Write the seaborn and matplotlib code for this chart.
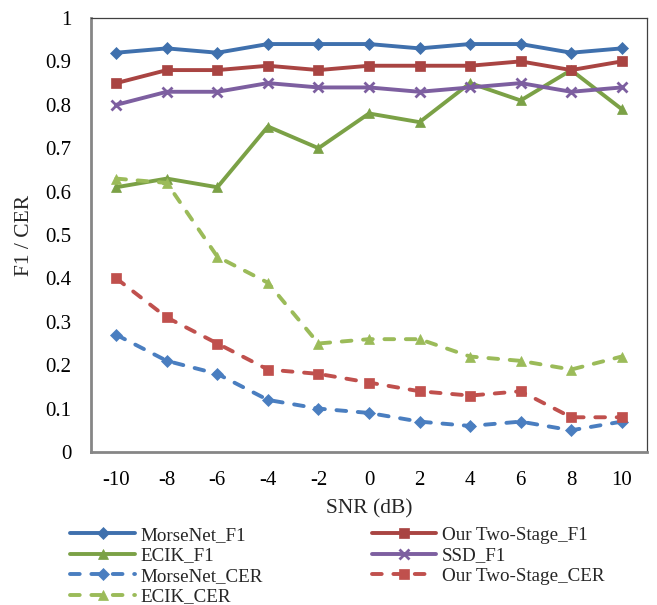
import matplotlib
matplotlib.use("Agg")
import matplotlib.pyplot as plt
import seaborn as sns
import pandas as pd

snr = [-10, -8, -6, -4, -2, 0, 2, 4, 6, 8, 10]
morsenet_f1 = [0.92, 0.93, 0.92, 0.94, 0.94, 0.94, 0.93, 0.94, 0.94, 0.92, 0.93]
twostage_f1 = [0.85, 0.88, 0.88, 0.89, 0.88, 0.89, 0.89, 0.89, 0.90, 0.88, 0.90]
ecik_f1 = [0.61, 0.63, 0.61, 0.75, 0.70, 0.78, 0.76, 0.85, 0.81, 0.88, 0.79]
ssd_f1 = [0.80, 0.83, 0.83, 0.85, 0.84, 0.84, 0.83, 0.84, 0.85, 0.83, 0.84]
morsenet_cer = [0.27, 0.21, 0.18, 0.12, 0.10, 0.09, 0.07, 0.06, 0.07, 0.05, 0.07]
twostage_cer = [0.40, 0.31, 0.25, 0.19, 0.18, 0.16, 0.14, 0.13, 0.14, 0.08, 0.08]
ecik_cer = [0.63, 0.62, 0.45, 0.39, 0.25, 0.26, 0.26, 0.22, 0.21, 0.19, 0.22]
y_ticks = [0, 0.1, 0.2, 0.3, 0.4, 0.5, 0.6, 0.7, 0.8, 0.9, 1]
y_ticklabels = ["0", "0.1", "0.2", "0.3", "0.4", "0.5", "0.6", "0.7", "0.8", "0.9", "1"]

sns.set_theme(style="white")
plt.rcParams['font.family'] = ['Liberation Serif', 'DejaVu Serif']
plt.rcParams['lines.dash_capstyle'] = 'round'

fig = plt.figure(figsize=(6.57, 6.05), dpi=100)
ax = fig.add_axes([91/657, 1-452/605, (647-91)/657, (452-18)/605])

dash = (0, (2.5, 3.0))
series = [
    ("MorseNet_F1", morsenet_f1, "#3F70AD", "D", 8, "-"),
    ("ECIK_F1", ecik_f1, "#7BA146", "^", 9.5, "-"),
    ("MorseNet_CER", morsenet_cer, "#4A7EC0", "D", 8, dash),
    ("ECIK_CER", ecik_cer, "#9BBB59", "^", 9.5, dash),
    ("Our Two-Stage_F1", twostage_f1, "#A94442", "s", 9.5, "-"),
    ("SSD_F1", ssd_f1, "#7D5FA0", "x", 10, "-"),
    ("Our Two-Stage_CER", twostage_cer, "#C0504D", "s", 9.5, dash),
]

for name, vals, col, mk, ms, ls in series:
    df = pd.DataFrame({"SNR": snr, "val": vals})
    sns.lineplot(data=df, x="SNR", y="val", ax=ax, color=col, marker=mk,
                 markersize=ms, linewidth=2.8, linestyle=ls, label=name,
                 markeredgecolor=col, markeredgewidth=2 if mk == "x" else 0.5,
                 sort=False, dash_capstyle='round')

ax.set_xlim(-11, 11)
ax.set_ylim(0, 1)
ax.set_xticks(snr)
ax.set_xticklabels([str(s) for s in snr])
ax.set_yticks(y_ticks)
ax.set_yticklabels(y_ticklabels)
ax.tick_params(axis='both', direction='in', length=6, width=1.5, color='#868686',
               labelsize=15, labelcolor='black')
ax.tick_params(axis='x', pad=14, top=False)
ax.tick_params(axis='y', pad=14, right=False)

for s in ['left', 'bottom']:
    ax.spines[s].set_color('#868686')
    ax.spines[s].set_linewidth(2.0)
for s in ['top', 'right']:
    ax.spines[s].set_color('#404040')
    ax.spines[s].set_linewidth(0.9)

ax.set_xlabel("SNR (dB)", fontsize=15.5, labelpad=6)
ax.set_ylabel("F1 / CER", fontsize=15.5, labelpad=8)
ax.grid(False)

handles, labels = ax.get_legend_handles_labels()
for h in handles:
    h.set_markersize(h.get_markersize() * 0.75)
    h.set_dash_capstyle('round')
leg = ax.legend(handles, labels, loc='upper left', bbox_to_anchor=(-0.051, -0.154), ncol=2,
                frameon=False, fontsize=13.7, handlelength=3.4, labelspacing=0.17,
                columnspacing=5.7, handletextpad=0.3, borderaxespad=0)

fig.savefig("out.png", dpi=100)
